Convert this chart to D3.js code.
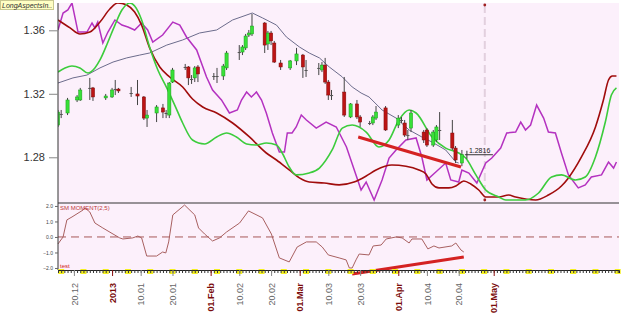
<!DOCTYPE html>
<html>
<head>
<meta charset="utf-8">
<script src="https://cdn.jsdelivr.net/npm/d3@7"></script>
<style>
body { margin: 0; background: #fff; }
svg { display: block; font-family: "Liberation Sans", Arial, sans-serif; }
</style>
</head>
<body>
<svg width="625" height="331"></svg>
<script>
var width = 625, height = 331;
var plotLeft = 58, plotRight = 619, plotTop = 3, mainBottom = 203, lowerBottom = 270;

// days are counted from 2013-01-01
var base = Date.UTC(2013, 0, 1);
function day(n) { return new Date(base + n * 864e5); }
var parseDate = d3.utcParse("%Y-%m-%d");

// daily candles: date, open, high, low, close
var candles = [
  ["2012-12-15",1.3003,1.3098,1.2991,1.3085], ["2012-12-16",1.3073,1.3098,1.3047,1.3073],
  ["2012-12-18",1.3079,1.3174,1.3066,1.3161], ["2012-12-21",1.3161,1.3192,1.3148,1.3180],
  ["2012-12-22",1.3161,1.3237,1.3155,1.3224], ["2012-12-25",1.3237,1.3300,1.3161,1.3237],
  ["2012-12-26",1.3237,1.3243,1.3155,1.3180], ["2012-12-30",1.3174,1.3199,1.3161,1.3186],
  ["2013-01-01",1.3180,1.3237,1.3174,1.3224], ["2013-01-02",1.3230,1.3287,1.3192,1.3230],
  ["2013-01-03",1.3230,1.3237,1.3205,1.3218], ["2013-01-07",1.3205,1.3243,1.3180,1.3205],
  ["2013-01-09",1.3199,1.3287,1.3129,1.3186], ["2013-01-11",1.3180,1.3186,1.3035,1.3047],
  ["2013-01-12",1.3047,1.3098,1.2991,1.3066], ["2013-01-15",1.3079,1.3129,1.3022,1.3117],
  ["2013-01-17",1.3111,1.3136,1.3047,1.3085], ["2013-01-18",1.3079,1.3098,1.3047,1.3079],
  ["2013-01-19",1.3066,1.3274,1.3047,1.3268], ["2013-01-20",1.3274,1.3363,1.3268,1.3350],
  ["2013-01-24",1.3369,1.3388,1.3350,1.3369], ["2013-01-25",1.3369,1.3375,1.3255,1.3300],
  ["2013-01-26",1.3293,1.3318,1.3262,1.3293], ["2013-01-27",1.3300,1.3375,1.3274,1.3363],
  ["2013-01-28",1.3369,1.3381,1.3274,1.3325], ["2013-02-02",1.3312,1.3331,1.3287,1.3312],
  ["2013-02-03",1.3312,1.3363,1.3268,1.3312], ["2013-02-05",1.3312,1.3388,1.3287,1.3375],
  ["2013-02-06",1.3363,1.3470,1.3350,1.3457], ["2013-02-10",1.3463,1.3507,1.3413,1.3463],
  ["2013-02-11",1.3463,1.3507,1.3444,1.3495], ["2013-02-12",1.3489,1.3577,1.3476,1.3564],
  ["2013-02-13",1.3570,1.3602,1.3558,1.3583], ["2013-02-14",1.3577,1.3703,1.3564,1.3627],
  ["2013-02-18",1.3646,1.3652,1.3457,1.3507], ["2013-02-19",1.3514,1.3596,1.3476,1.3583],
  ["2013-02-20",1.3583,1.3596,1.3507,1.3533], ["2013-02-21",1.3520,1.3533,1.3394,1.3400],
  ["2013-02-23",1.3394,1.3413,1.3350,1.3369], ["2013-02-26",1.3363,1.3413,1.3350,1.3407],
  ["2013-02-28",1.3407,1.3489,1.3381,1.3451], ["2013-03-02",1.3444,1.3451,1.3300,1.3369],
  ["2013-03-03",1.3350,1.3413,1.3306,1.3350], ["2013-03-07",1.3363,1.3394,1.3318,1.3363],
  ["2013-03-08",1.3350,1.3400,1.3337,1.3381], ["2013-03-09",1.3381,1.3426,1.3262,1.3274],
  ["2013-03-10",1.3274,1.3287,1.3161,1.3192], ["2013-03-11",1.3192,1.3224,1.3161,1.3192],
  ["2013-03-15",1.3211,1.3306,1.3054,1.3066], ["2013-03-17",1.3054,1.3142,1.3047,1.3136],
  ["2013-03-19",1.3136,1.3161,1.3041,1.3054], ["2013-03-20",1.3054,1.3066,1.2991,1.3022],
  ["2013-03-23",1.3016,1.3029,1.3003,1.3016], ["2013-03-24",1.3016,1.3066,1.3003,1.3054],
  ["2013-03-25",1.3047,1.3123,1.3035,1.3085], ["2013-03-28",1.3111,1.3123,1.2966,1.2972],
  ["2013-04-01",1.3003,1.3066,1.2984,1.3047], ["2013-04-02",1.3035,1.3054,1.3016,1.3035],
  ["2013-04-03",1.3016,1.3035,1.2928,1.2940], ["2013-04-04",1.2940,1.2972,1.2909,1.2940],
  ["2013-04-05",1.2984,1.3098,1.2959,1.3079], ["2013-04-09",1.2959,1.2972,1.2890,1.2909],
  ["2013-04-10",1.2972,1.2984,1.2865,1.2877], ["2013-04-12",1.2877,1.2972,1.2865,1.2959],
  ["2013-04-13",1.2909,1.3003,1.2896,1.2991], ["2013-04-14",1.2972,1.3085,1.2909,1.2972],
  ["2013-04-18",1.2953,1.3035,1.2846,1.2858], ["2013-04-19",1.2858,1.2871,1.2764,1.2783],
  ["2013-04-21",1.2764,1.2846,1.2744,1.2816]
];

// overlay lines: [day, price]
var darkRedLine = [[-17,1.3665],[-13.2,1.3615],[-10.1,1.3577],[-7,1.3589],[-3.8,1.3652],[-0.7,1.3734],
  [1.8,1.3772],[4.6,1.3759],[7.1,1.3715],[9.3,1.3633],[11.8,1.3489],[15,1.3369],[18.1,1.3306],
  [22.2,1.3243],[25.3,1.3167],[28.5,1.3117],[32.9,1.3079],[37.9,1.3016],[43.2,1.2928],[48.5,1.2827],
  [51.7,1.2783],[55.7,1.2720],[58.9,1.2670],[62,1.2644],[66.7,1.2638],[71.4,1.2626],[76.1,1.2644],
  [79.9,1.2682],[83,1.2720],[88,1.2751],[92.4,1.2744],[96.5,1.2720],[98.7,1.2695],[100.6,1.2632],
  [102.8,1.2607],[105.9,1.2607],[108.1,1.2619],[110.6,1.2651],[112.8,1.2632],[115.3,1.2594],
  [117.5,1.2550],[121.6,1.2550],[124.7,1.2562],[126.9,1.2550],[133.2,1.2531],[137.2,1.2562],
  [141.3,1.2619],[143.5,1.2670],[147.6,1.2802],[152,1.2991],[154.5,1.3161],[156.1,1.3287],
  [157.3,1.3312],[158.6,1.3312]];

var greenLine = [[-17,1.3337],[-14.8,1.3363],[-12.6,1.3375],[-10.1,1.3363],[-7.6,1.3331],[-5.4,1.3363],
  [-3.8,1.3413],[-1.3,1.3526],[0.9,1.3633],[3.1,1.3728],[5.6,1.3772],[7.1,1.3753],[9.3,1.3665],
  [11.8,1.3495],[14.4,1.3350],[17.2,1.3237],[19.7,1.3129],[22.2,1.3016],[25.3,1.2909],[29.1,1.2884],
  [32.9,1.2928],[36,1.2953],[39.1,1.2928],[42.3,1.2884],[45.4,1.2877],[48.5,1.2890],[51.7,1.2877],
  [53.5,1.2827],[55.7,1.2739],[57.9,1.2689],[62,1.2701],[65.2,1.2732],[69.2,1.2846],[72.4,1.2984],
  [75.5,1.3003],[79.9,1.2959],[83.9,1.2865],[87.1,1.2909],[90.2,1.3035],[93.4,1.3098],[95.6,1.3079],
  [100.6,1.2928],[104.9,1.2858],[109,1.2827],[111.2,1.2795],[114.4,1.2689],[117.5,1.2594],
  [121.6,1.2550],[123.8,1.2531],[130,1.2531],[134.1,1.2575],[138.2,1.2676],[141.3,1.2689],
  [145.7,1.2657],[148.8,1.2676],[152,1.2802],[155.1,1.3022],[157,1.3192],[158.6,1.3237]];

var purpleLine = [[-17,1.3602],[-15.4,1.3709],[-13.9,1.3728],[-12.6,1.3772],[-11.7,1.3684],[-10.7,1.3589],
  [-7.9,1.3589],[-6.3,1.3646],[-5.4,1.3615],[-4.5,1.3652],[-2.9,1.3520],[-1.3,1.3589],[0.9,1.3665],
  [3.1,1.3633],[5,1.3621],[7.1,1.3602],[9.3,1.3646],[11.2,1.3602],[12.8,1.3526],[15.9,1.3570],
  [19.1,1.3652],[21.3,1.3633],[23.4,1.3558],[26.6,1.3476],[29.7,1.3306],[31.6,1.3224],[34.4,1.3161],
  [36.9,1.3079],[39.4,1.3098],[40.7,1.3161],[42.3,1.3211],[43.8,1.3180],[45.4,1.3211],[47,1.3161],
  [48.5,1.3079],[50.4,1.2953],[52.6,1.2833],[54.2,1.2833],[55.1,1.2953],[56.6,1.2953],[57.9,1.2991],
  [59.5,1.3066],[61.1,1.3035],[64.2,1.2984],[67.3,1.3022],[70.5,1.2991],[73.7,1.2865],[76.7,1.2689],
  [78.3,1.2594],[79.9,1.2644],[82.4,1.2531],[84.9,1.2657],[87.1,1.2795],[89.3,1.2846],[92.4,1.2909],
  [95.6,1.2922],[97.4,1.2802],[99,1.2657],[101.8,1.2707],[104.9,1.2764],[106.5,1.2657],[109,1.2644],
  [110,1.2720],[112.2,1.2701],[114.7,1.2638],[117.5,1.2764],[119.4,1.2795],[122.2,1.2858],
  [124.1,1.2953],[126.9,1.2959],[128.5,1.3022],[130,1.2972],[131.6,1.3003],[133.5,1.3129],
  [135.7,1.3047],[137.2,1.2959],[139.4,1.2953],[141.3,1.2827],[143.5,1.2689],[146.6,1.2607],
  [148.8,1.2626],[150.7,1.2676],[153.9,1.2689],[156.1,1.2770],[157.7,1.2732],[158.6,1.2770]];

var envelopeLine = [[-17,1.3268],[-12.3,1.3300],[-7.9,1.3318],[-3.8,1.3363],[0.3,1.3400],[4.6,1.3426],
  [8.7,1.3444],[11.8,1.3457],[17.2,1.3507],[22.2,1.3539],[27.5,1.3583],[32.9,1.3602],[37.9,1.3665],
  [44.1,1.3709],[47.3,1.3678],[51.7,1.3633],[54.8,1.3558],[58.9,1.3495],[62,1.3457],[65.2,1.3426],
  [68.3,1.3369],[72.4,1.3306],[75.5,1.3243],[78.3,1.3205],[80.8,1.3180],[84.9,1.3098],[89.3,1.3047],
  [93.4,1.2972],[97.4,1.2928],[100.6,1.2896],[104.9,1.2846],[108.1,1.2770],[109,1.2764]];

// SM MOMENT(2,5): [day, value]
var momentum = [[-17,-0.45],[-15.4,0],[-14.2,1.10],[-12.6,1.29],[-9.1,1.74],[-8.5,1.87],[-7,1.61],
  [-5.4,0.90],[-2.9,0.58],[0.3,0.19],[2.4,-0.06],[3.4,-0.13],[6.5,-0.06],[8.1,0.06],[9.3,-0.06],
  [10.9,-1.23],[14,-1.23],[15.9,-0.97],[16.9,-1.03],[17.8,-0.32],[19.1,1.42],[22.8,2.06],[26,1.42],
  [27.2,0.58],[29.1,0.19],[31.6,-0.26],[33.8,-0.06],[36,0.32],[40.1,0.90],[42.9,1.68],[47.3,1.23],
  [50.1,0.19],[52.6,-1.35],[55.7,-1.61],[58.2,-0.65],[61.1,-0.32],[64.2,-0.32],[66.1,-0.65],
  [68,-1.16],[71.4,-1.35],[73.6,-1.48],[74.6,-2.0],[75.5,-2.0],[76.7,-1.48],[77.7,-1.10],[80.8,-1.16],
  [82.1,-0.58],[84.6,-0.52],[86.2,-0.13],[89.3,0],[91.2,-0.06],[93.4,-0.39],[94.3,-0.13],[97.4,-0.13],
  [99.3,-0.77],[101.2,-0.58],[102.8,-0.71],[106.8,-0.58],[108.1,-0.39],[109.7,-0.84],[110.6,-0.97]];

// hand-drawn trend lines
var trendPrice = [[77.4,1.2928],[109.7,1.2739]];
var trendMomentum = [[75.5,-2.39],[110.6,-1.29]];
var markerDay = 117.2;

// x axis labels
var labelDays = [-12, 0, 9, 19, 31, 40, 50, 59, 68, 78, 90, 99, 109, 120];
var labelTexts = ["20.12","2013","10.01","20.01","01.Feb","10.02","20.02","01.Mar","10.03","20.03","01.Apr","10.04","20.04","01.May"];
var labelMajor = [false, true, false, false, true, false, false, true, false, false, true, false, false, true];

var priceTicks = [1.28, 1.32, 1.36];
var momentumTicks = [-2, -1, 0, 1, 2];

// scales
var x = d3.scaleUtc().domain([day(-17), day(159.4)]).range([plotLeft, plotRight]);
var y = d3.scaleLinear().domain([1.2512, 1.3772]).range([mainBottom, plotTop]);
var ym = d3.scaleLinear().domain([-2.13, 2.19]).range([lowerBottom, mainBottom]);

var svg = d3.select("svg");

// panels
svg.append("rect").attr("x", plotLeft).attr("y", plotTop).attr("width", plotRight - plotLeft)
  .attr("height", lowerBottom - plotTop).attr("fill", "#fcf0fb");

svg.append("clipPath").attr("id", "mainClip").append("rect")
  .attr("x", plotLeft).attr("y", plotTop).attr("width", plotRight - plotLeft).attr("height", mainBottom - plotTop);

var main = svg.append("g").attr("clip-path", "url(#mainClip)");

// dashed marker line
main.append("line")
  .attr("x1", x(day(markerDay))).attr("x2", x(day(markerDay)))
  .attr("y1", plotTop + 2).attr("y2", mainBottom - 3)
  .attr("stroke", "#e2d0de").attr("stroke-width", 2).attr("stroke-dasharray", "8,4");
[plotTop + 2, mainBottom - 3].forEach(function (yy) {
  svg.append("circle").attr("cx", x(day(markerDay))).attr("cy", yy).attr("r", 1.4).attr("fill", "#a02020");
});

function lineOf(yScale, curve) {
  return d3.line()
    .x(function (d) { return x(day(d[0])); })
    .y(function (d) { return yScale(d[1]); })
    .curve(curve);
}

main.append("path").datum(envelopeLine).attr("d", lineOf(y, d3.curveLinear))
  .attr("fill", "none").attr("stroke", "#6c6c8c").attr("stroke-width", 1);
main.append("path").datum(purpleLine).attr("d", lineOf(y, d3.curveLinear))
  .attr("fill", "none").attr("stroke", "#b432c0").attr("stroke-width", 1.5);
main.append("path").datum(darkRedLine).attr("d", lineOf(y, d3.curveMonotoneX))
  .attr("fill", "none").attr("stroke", "#a00c0c").attr("stroke-width", 1.6);
main.append("path").datum(greenLine).attr("d", lineOf(y, d3.curveMonotoneX))
  .attr("fill", "none").attr("stroke", "#3ccc3c").attr("stroke-width", 1.6);

// candles
var candleData = candles.map(function (c) {
  return {date: parseDate(c[0]), open: c[1], high: c[2], low: c[3], close: c[4]};
});

var cg = main.selectAll("g.candle").data(candleData).enter().append("g").attr("class", "candle");
cg.append("line")
  .attr("x1", function (d) { return x(d.date); })
  .attr("x2", function (d) { return x(d.date); })
  .attr("y1", function (d) { return y(d.high); })
  .attr("y2", function (d) { return y(d.low); })
  .attr("stroke", "#444").attr("stroke-width", 1);
cg.append("rect")
  .attr("x", function (d) { return x(d.date) - 1.6; })
  .attr("width", 3.2)
  .attr("y", function (d) { return y(Math.max(d.open, d.close)); })
  .attr("height", function (d) { return Math.max(1, Math.abs(y(d.open) - y(d.close))); })
  .attr("fill", function (d) { return d.close > d.open ? "#38e038" : d.close < d.open ? "#bc1414" : "#555"; })
  .attr("stroke", function (d) { return d.close > d.open ? "#1a9a1a" : d.close < d.open ? "#800a0a" : "none"; })
  .attr("stroke-width", 0.5);

// trend line on price
main.append("path").datum(trendPrice).attr("d", lineOf(y, d3.curveLinear))
  .attr("stroke", "#d42222").attr("stroke-width", 3).attr("fill", "none");

// last price label
var last = candleData[candleData.length - 1];
svg.append("line").attr("x1", x(last.date) + 3).attr("x2", x(last.date) + 31)
  .attr("y1", y(last.close)).attr("y2", y(last.close)).attr("stroke", "#333").attr("stroke-width", 1);
svg.append("line").attr("x1", x(last.date) + 5).attr("x2", x(last.date) + 5)
  .attr("y1", y(last.close) - 4).attr("y2", y(last.close) + 4).attr("stroke", "#333").attr("stroke-width", 1);
svg.append("text").attr("x", x(last.date) + 7).attr("y", y(last.close) - 2)
  .attr("font-size", 7).attr("fill", "#222").text(d3.format(".4f")(last.close));

// lower panel
svg.append("line").attr("x1", plotLeft).attr("x2", plotRight).attr("y1", ym(0)).attr("y2", ym(0))
  .attr("stroke", "#a85858").attr("stroke-width", 1).attr("stroke-dasharray", "8,5");
svg.append("path").datum(momentum).attr("d", lineOf(ym, d3.curveLinear))
  .attr("fill", "none").attr("stroke", "#a86060").attr("stroke-width", 1);
svg.append("path").datum(trendMomentum).attr("d", lineOf(ym, d3.curveLinear))
  .attr("stroke", "#d42222").attr("stroke-width", 3).attr("fill", "none");

svg.append("text").attr("x", plotLeft + 2).attr("y", mainBottom + 7).attr("font-size", 6)
  .attr("fill", "#c03a3a").text("SM MOMENT(2,5)");
svg.append("text").attr("x", plotLeft + 2).attr("y", lowerBottom - 2).attr("font-size", 6)
  .attr("fill", "#d02020").text("test");

// frame lines
svg.append("line").attr("x1", plotLeft).attr("x2", plotRight).attr("y1", mainBottom).attr("y2", mainBottom)
  .attr("stroke", "#333");
svg.append("line").attr("x1", plotLeft).attr("x2", plotLeft).attr("y1", plotTop).attr("y2", lowerBottom)
  .attr("stroke", "#333");

// y axes
var axisLeft = d3.axisLeft(y).tickValues(priceTicks).tickSize(9).tickPadding(4).tickFormat(d3.format(".2f"));
var ya = svg.append("g").attr("transform", "translate(" + plotLeft + ",0)").call(axisLeft);
ya.select(".domain").remove();
ya.selectAll("line").attr("stroke", "#888");
ya.selectAll("text").attr("font-size", 11).attr("fill", "#333").attr("font-family", "Liberation Sans, Arial");

var axisMom = d3.axisLeft(ym).tickValues(momentumTicks).tickSize(3).tickPadding(2).tickFormat(d3.format(".1f"));
var ma = svg.append("g").attr("transform", "translate(" + plotLeft + ",0)").call(axisMom);
ma.select(".domain").remove();
ma.selectAll("line").attr("stroke", "#666");
ma.selectAll("text").attr("font-size", 5).attr("fill", "#444").attr("font-family", "Liberation Sans, Arial");

// weekend markers
svg.selectAll("rect.wk").data(d3.utcSunday.range(day(-17), day(160))).enter().append("rect")
  .attr("class", "wk")
  .attr("x", function (d) { return x(d) - 3; }).attr("y", lowerBottom - 1)
  .attr("width", 6).attr("height", 5).attr("fill", "#f4f020");

// daily ticks
var axisDays = d3.axisBottom(x).ticks(d3.utcDay.every(1)).tickSize(3).tickFormat("");
var da = svg.append("g").attr("transform", "translate(0," + lowerBottom + ")").call(axisDays);
da.select(".domain").attr("stroke", "#222");
da.selectAll("line").attr("stroke", "#333");

// labelled ticks
var axisBottom = d3.axisBottom(x).tickValues(labelDays.map(day)).tickSize(6)
  .tickFormat(function (d, i) { return labelTexts[i]; });
var la = svg.append("g").attr("transform", "translate(0," + lowerBottom + ")").call(axisBottom);
la.select(".domain").remove();
la.selectAll("line").attr("stroke", function (d, i) { return labelMajor[i] ? "#8a1010" : "#888"; });
la.selectAll("text")
  .attr("transform", "rotate(-90)")
  .attr("text-anchor", "end")
  .attr("x", -13).attr("y", 0).attr("dy", "0.35em")
  .attr("font-size", 9)
  .attr("font-family", "Liberation Sans, Arial")
  .attr("font-weight", function (d, i) { return labelMajor[i] ? "bold" : "normal"; })
  .attr("fill", function (d, i) { return labelMajor[i] ? "#7a0c0c" : "#666"; });

// name tag
svg.append("rect").attr("x", 0.5).attr("y", 0.5).attr("width", 53).attr("height", 9)
  .attr("fill", "#ffffc4").attr("stroke", "#c8c890");
svg.append("text").attr("x", 2).attr("y", 7.5).attr("font-size", 7).attr("font-style", "italic")
  .attr("fill", "#333").text("LongAspectsIn..");
</script>
</body>
</html>
